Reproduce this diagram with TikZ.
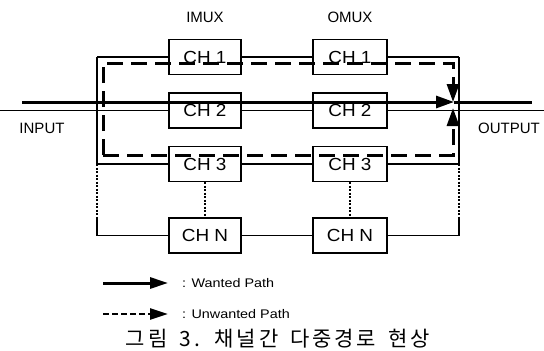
\documentclass[tikz,border=0pt]{standalone}
\usepackage{fontspec}
\setmainfont{Liberation Sans}
\newfontfamily\chfont[FakeStretch=1.08]{Liberation Sans}
\newfontfamily\legfont[FakeStretch=1.15]{Liberation Sans}
\newfontfamily\cjk[LetterSpace=13]{Noto Sans CJK KR}
\usetikzlibrary{arrows.meta}
\begin{document}
\begin{tikzpicture}[x=1pt,y=-1pt,
  chbox/.style={draw,line width=1.4pt,minimum width=72pt,minimum height=35pt,inner sep=0pt,
    font=\chfont\fontsize{17.5}{20}\selectfont},
  lbl/.style={inner sep=0pt,font=\fontsize{15}{17}\selectfont},
  legtext/.style={inner sep=0pt,anchor=west,font=\legfont\fontsize{12.5}{14}\selectfont},
  thinline/.style={line width=1.3pt},
  dotline/.style={line width=1.2pt,dash pattern=on 2pt off 1.5pt},
  wanted/.style={line width=3pt},
  unwanted/.style={line width=3pt,dash pattern=on 16pt off 8pt,line join=miter},
  tip/.style={-{Triangle[length=18pt,width=12pt]}}
]
\useasboundingbox (0,0) rectangle (544,351);
% headings
\node[lbl] (imux) at (205,17) {IMUX};
\node[lbl] (omux) at (350,17) {OMUX};
\node[lbl] (inlbl) at (42,128) {INPUT};
\node[lbl] (outlbl) at (509,128) {OUTPUT};
% boxes
\node[chbox] (i1) at (205,57) {CH 1};
\node[chbox] (i2) at (205,110.5) {CH 2};
\node[chbox] (i3) at (205,164) {CH 3};
\node[chbox] (iN) at (205,235.5) {CH N};
\node[chbox,minimum width=74pt] (o1) at (350,57) {CH 1};
\node[chbox,minimum width=74pt] (o2) at (350,110.5) {CH 2};
\node[chbox,minimum width=74pt] (o3) at (350,164) {CH 3};
\node[chbox,minimum width=74pt] (oN) at (350,235.5) {CH N};
% bus coordinates
\coordinate (lt) at (97,57);
\coordinate (l3) at (97,164);
\coordinate (ld) at (97,218);
\coordinate (lb) at (97,235.5);
\coordinate (rt) at (459,57);
\coordinate (r3) at (459,164);
\coordinate (rd) at (459,218);
\coordinate (rb) at (459,235.5);
\coordinate (in) at (0,110.5);
\coordinate (out) at (544,110.5);
% buses
\draw[thinline] (lt) -- (l3);
\draw[dotline] (l3) -- (ld);
\draw[thinline] (ld) -- (lb);
\draw[thinline] (rt) -- (r3);
\draw[dotline] (r3) -- (rd);
\draw[thinline] (rd) -- (rb);
% thin connectors
\draw[thinline] (lt) -- (i1.west);
\draw[thinline] (i1.east) -- (o1.west);
\draw[thinline] (o1.east) -- (rt);
\draw[thinline] (in) -- (i2.west);
\draw[thinline] (i2.east) -- (o2.west);
\draw[thinline] (o2.east) -- (out);
\draw[thinline] (l3) -- (i3.west);
\draw[thinline] (i3.east) -- (o3.west);
\draw[thinline] (o3.east) -- (r3);
\draw[thinline] (lb) -- (iN.west);
\draw[thinline] (iN.east) -- (oN.west);
\draw[thinline] (oN.east) -- (rb);
\draw[dotline] (i3.south) -- (iN.north);
\draw[dotline] (o3.south) -- (oN.north);
% wanted path
\coordinate (ws) at (22,102);
\coordinate (wt) at (454,102);
\coordinate (we) at (532,102);
\draw[wanted,tip] (ws) -- (wt);
\draw[wanted] (wt) -- (we);
% unwanted paths
\coordinate (dtl) at (103,63);
\coordinate (dtr) at (453,63);
\coordinate (dtip) at (453,102);
\coordinate (dbl) at (103,155);
\coordinate (dbr) at (453,155);
\coordinate (dbtip) at (453,108);
\draw[unwanted,tip] (dbl) -- (dtl) -- (dtr) -- (dtip);
\draw[unwanted,tip] (dbl) -- (dbr) -- (dbtip);
% legend
\coordinate (la1) at (103,283);
\coordinate (lb1) at (168,283);
\coordinate (la2) at (103,314);
\coordinate (lb2) at (168,314);
\draw[wanted,-{Triangle[length=18pt,width=11pt]}] (la1) -- (lb1);
\draw[line width=2.5pt,dash pattern=on 6pt off 3pt,-{Triangle[length=18pt,width=11pt]}] (la2) -- (lb2);
\node[legtext] (t1) at (182,283) {: Wanted Path};
\node[legtext] (t2) at (182,314) {: Unwanted Path};
% caption
\node[inner sep=0pt] (cap) at (278,339) {\cjk\fontsize{21}{24}\selectfont 그림\hspace{5pt} 3.\hspace{5pt} 채널간\hspace{5pt} 다중경로\hspace{5pt} 현상};
\end{tikzpicture}
\end{document}
